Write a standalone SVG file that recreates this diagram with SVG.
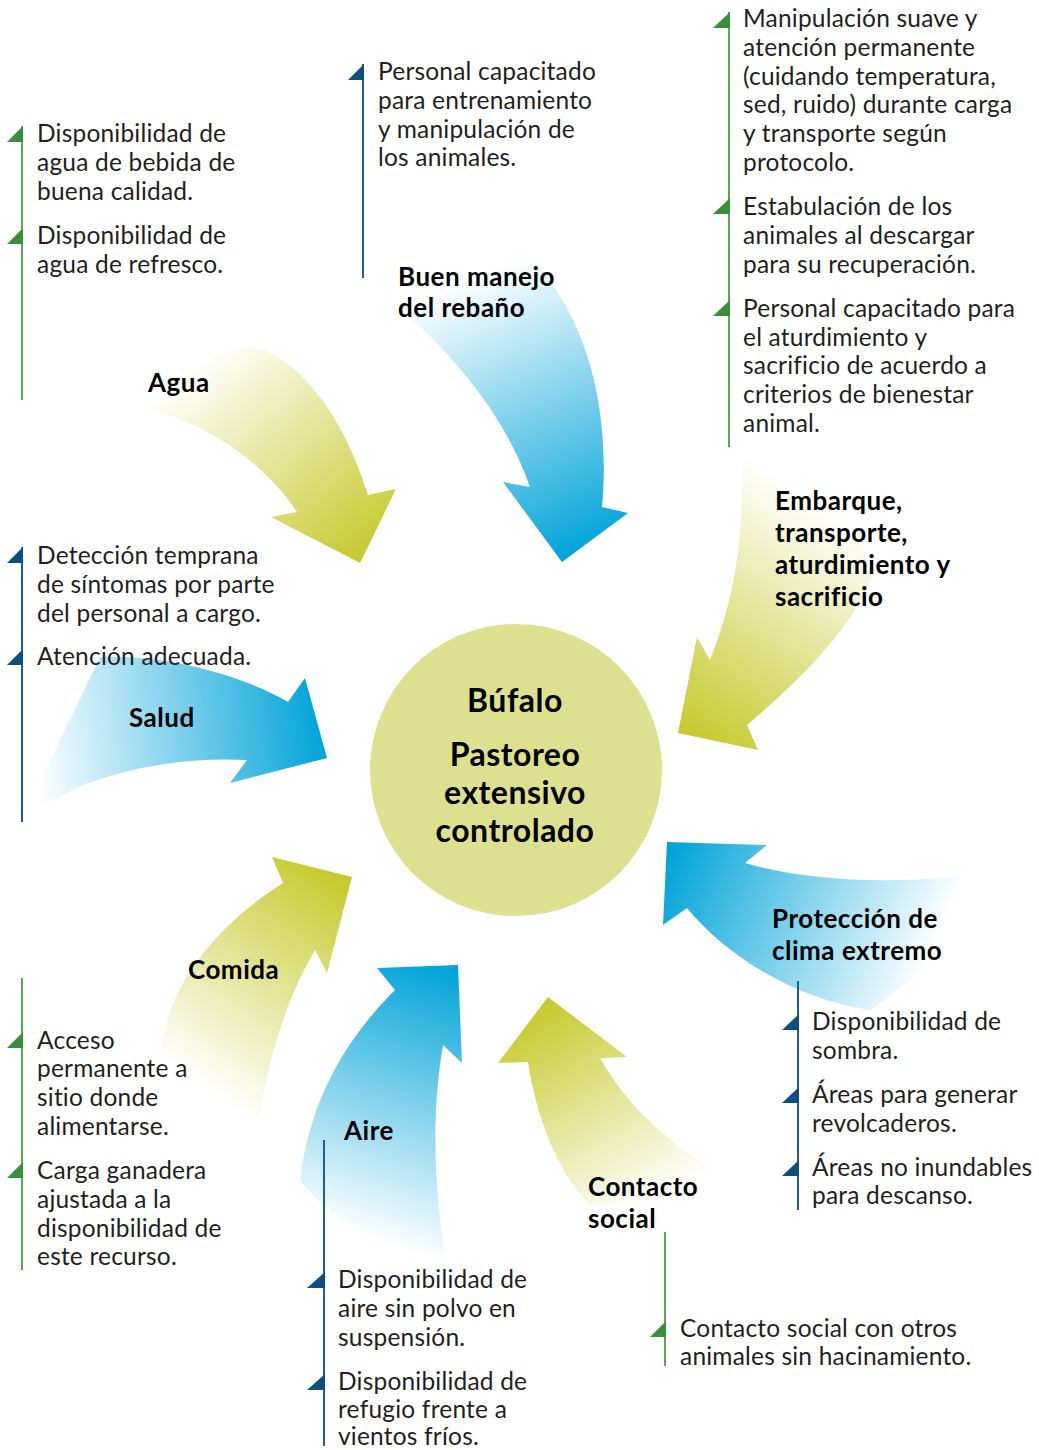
<svg xmlns="http://www.w3.org/2000/svg" width="1039" height="1450" viewBox="0 0 1039 1450">
<style>
.t{font-family:Lato,"Noto Sans","Liberation Sans",sans-serif;font-size:24.5px;letter-spacing:0.2px;fill:#231f20}
.b{font-family:Lato,"Noto Sans","Liberation Sans",sans-serif;font-size:26px;letter-spacing:0.5px;font-weight:bold;fill:#000}
.c{font-family:Lato,"Noto Sans","Liberation Sans",sans-serif;font-size:32px;letter-spacing:0.5px;font-weight:bold;fill:#000;text-anchor:middle}
.gl{stroke:#5aa852;stroke-width:2;fill:none}
.bl{stroke:#1f5f92;stroke-width:2;fill:none}
.gt{fill:#3a8f3c}
.bt{fill:#0d4f7d}
</style>
<defs>
<linearGradient id="gA" gradientUnits="userSpaceOnUse" x1="200" y1="360" x2="362" y2="560"><stop offset="0" stop-color="#fff"/><stop offset="1" stop-color="#c6c92c"/></linearGradient>
<linearGradient id="gB" gradientUnits="userSpaceOnUse" x1="450" y1="285" x2="565" y2="560"><stop offset="0" stop-color="#fff"/><stop offset="1" stop-color="#00a3d9"/></linearGradient>
<linearGradient id="gE" gradientUnits="userSpaceOnUse" x1="830" y1="510" x2="685" y2="735"><stop offset="0" stop-color="#fff"/><stop offset="1" stop-color="#c6c92c"/></linearGradient>
<linearGradient id="gS" gradientUnits="userSpaceOnUse" x1="35" y1="775" x2="325" y2="740"><stop offset="0" stop-color="#fff"/><stop offset="1" stop-color="#00a3d9"/></linearGradient>
<linearGradient id="gP" gradientUnits="userSpaceOnUse" x1="930" y1="960" x2="670" y2="850"><stop offset="0" stop-color="#fff"/><stop offset="1" stop-color="#00a3d9"/></linearGradient>
<linearGradient id="gC" gradientUnits="userSpaceOnUse" x1="205" y1="1090" x2="348" y2="880"><stop offset="0" stop-color="#fff"/><stop offset="1" stop-color="#c6c92c"/></linearGradient>
<linearGradient id="gR" gradientUnits="userSpaceOnUse" x1="370" y1="1240" x2="455" y2="970"><stop offset="0" stop-color="#fff"/><stop offset="1" stop-color="#00a3d9"/></linearGradient>
<linearGradient id="gK" gradientUnits="userSpaceOnUse" x1="660" y1="1200" x2="550" y2="1000"><stop offset="0" stop-color="#fff"/><stop offset="1" stop-color="#c6c92c"/></linearGradient>
</defs>
<rect width="1039" height="1450" fill="#fff"/>

<g id="connectors">
<path id="arrow-agua" fill="url(#gA)" d="M250,347 C300,355 345,420 368,495 L396,489 L360,563 L271,517 L297,512 C270,470 210,420 138,408 C170,375 210,350 250,347 Z"/>
<path id="arrow-manejo" fill="url(#gB)" d="M365,278 C430,330 500,400 530,487 L503,482 L562,562 L628,513 L602,507 C610,420 592,330 540,268 C480,262 410,265 365,278 Z"/>
<path id="arrow-embarque" fill="url(#gE)" d="M742,452 C745,550 730,610 710,660 L697,637 L678,733 L758,750 L747,725 C800,680 850,630 872,578 C860,520 820,470 742,452 Z"/>
<path id="arrow-salud" fill="url(#gS)" d="M23,822 C60,785 150,755 247,760 L230,783 L327,758 L305,678 L288,702 C240,675 170,655 100,657 C70,720 40,780 23,822 Z"/>
<path id="arrow-proteccion" fill="url(#gP)" d="M1010,868 C930,885 820,885 745,863 L767,845 L667,842 L663,925 L687,908 C730,960 800,1000 870,1010 C940,960 990,910 1010,868 Z"/>
<path id="arrow-comida" fill="url(#gC)" d="M160,1060 C165,990 210,930 283,883 L272,857 L352,877 L327,973 L315,950 C285,1000 265,1070 258,1130 C220,1120 180,1090 160,1060 Z"/>
<path id="arrow-aire" fill="url(#gR)" d="M300,1180 C310,1100 345,1040 395,990 L377,968 L458,965 L462,1063 L443,1045 C430,1120 435,1200 447,1265 C390,1250 330,1220 300,1180 Z"/>
<path id="arrow-contacto" fill="url(#gK)" d="M528,1062 C535,1110 555,1170 590,1205 C650,1200 710,1195 752,1190 C690,1160 635,1120 600,1058 L627,1057 L548,997 L498,1063 Z"/>
</g>

<g id="center">
<circle cx="516" cy="770" r="146" fill="#dde08f"/>
<text class="c" x="515" y="712">Búfalo</text>
<text class="c" x="515" y="766">Pastoreo</text>
<text class="c" x="515" y="804">extensivo</text>
<text class="c" x="515" y="842">controlado</text>
</g>

<g id="agua">
<text class="b" x="148" y="392">Agua</text>
<line class="gl" x1="22" y1="126" x2="22" y2="400"/>
<polygon class="gt" points="7,142 23,142 23,126"/>
<polygon class="gt" points="7,244 23,244 23,228"/>
<text class="t" x="37" y="142">Disponibilidad de</text>
<text class="t" x="37" y="171">agua de bebida de</text>
<text class="t" x="37" y="200">buena calidad.</text>
<text class="t" x="37" y="244">Disponibilidad de</text>
<text class="t" x="37" y="273">agua de refresco.</text>
</g>

<g id="manejo">
<text class="b" x="398" y="286">Buen manejo</text>
<text class="b" x="398" y="317">del rebaño</text>
<line class="bl" x1="363" y1="64" x2="363" y2="278"/>
<polygon class="bt" points="348,80 364,80 364,64"/>
<text class="t" x="378" y="80">Personal capacitado</text>
<text class="t" x="378" y="109">para entrenamiento</text>
<text class="t" x="378" y="138">y manipulación de</text>
<text class="t" x="378" y="166">los animales.</text>
</g>

<g id="embarque">
<text class="b" x="775" y="510">Embarque,</text>
<text class="b" x="775" y="542">transporte,</text>
<text class="b" x="775" y="574">aturdimiento y</text>
<text class="b" x="775" y="606">sacrificio</text>
<line class="gl" x1="729" y1="12" x2="729" y2="447"/>
<polygon class="gt" points="713,28 730,28 730,12"/>
<polygon class="gt" points="713,214 730,214 730,198"/>
<polygon class="gt" points="713,316 730,316 730,300"/>
<text class="t" x="743" y="27">Manipulación suave y</text>
<text class="t" x="743" y="56">atención permanente</text>
<text class="t" x="743" y="85">(cuidando temperatura,</text>
<text class="t" x="743" y="113">sed, ruido) durante carga</text>
<text class="t" x="743" y="142">y transporte según</text>
<text class="t" x="743" y="171">protocolo.</text>
<text class="t" x="743" y="215">Estabulación de los</text>
<text class="t" x="743" y="244">animales al descargar</text>
<text class="t" x="743" y="273">para su recuperación.</text>
<text class="t" x="743" y="317">Personal capacitado para</text>
<text class="t" x="743" y="346">el aturdimiento y</text>
<text class="t" x="743" y="374">sacrificio de acuerdo a</text>
<text class="t" x="743" y="403">criterios de bienestar</text>
<text class="t" x="743" y="432">animal.</text>
</g>

<g id="salud">
<text class="b" x="129" y="727">Salud</text>
<line class="bl" x1="22" y1="547" x2="22" y2="822"/>
<polygon class="bt" points="7,563 23,563 23,547"/>
<polygon class="bt" points="7,665 23,665 23,649"/>
<text class="t" x="37" y="564">Detección temprana</text>
<text class="t" x="37" y="593">de síntomas por parte</text>
<text class="t" x="37" y="622">del personal a cargo.</text>
<text class="t" x="37" y="665">Atención adecuada.</text>
</g>

<g id="proteccion">
<text class="b" x="772" y="928">Protección de</text>
<text class="b" x="772" y="960">clima extremo</text>
<line class="bl" x1="798" y1="981" x2="798" y2="1210"/>
<polygon class="bt" points="782,1030 799,1030 799,1014"/>
<polygon class="bt" points="782,1103 799,1103 799,1087"/>
<polygon class="bt" points="782,1176 799,1176 799,1160"/>
<text class="t" x="812" y="1030">Disponibilidad de</text>
<text class="t" x="812" y="1059">sombra.</text>
<text class="t" x="812" y="1103">Áreas para generar</text>
<text class="t" x="812" y="1132">revolcaderos.</text>
<text class="t" x="812" y="1176">Áreas no inundables</text>
<text class="t" x="812" y="1204">para descanso.</text>
</g>

<g id="comida">
<text class="b" x="188" y="979">Comida</text>
<line class="gl" x1="22" y1="978" x2="22" y2="1270"/>
<polygon class="gt" points="7,1048 23,1048 23,1032"/>
<polygon class="gt" points="7,1178 23,1178 23,1162"/>
<text class="t" x="37" y="1049">Acceso</text>
<text class="t" x="37" y="1077">permanente a</text>
<text class="t" x="37" y="1106">sitio donde</text>
<text class="t" x="37" y="1135">alimentarse.</text>
<text class="t" x="37" y="1179">Carga ganadera</text>
<text class="t" x="37" y="1208">ajustada a la</text>
<text class="t" x="37" y="1237">disponibilidad de</text>
<text class="t" x="37" y="1265">este recurso.</text>
</g>

<g id="aire">
<text class="b" x="344" y="1140">Aire</text>
<line class="bl" x1="324" y1="1140" x2="324" y2="1446"/>
<polygon class="bt" points="307,1288 325,1288 325,1272"/>
<polygon class="bt" points="307,1390 325,1390 325,1374"/>
<text class="t" x="338" y="1288">Disponibilidad de</text>
<text class="t" x="338" y="1317">aire sin polvo en</text>
<text class="t" x="338" y="1346">suspensión.</text>
<text class="t" x="338" y="1390">Disponibilidad de</text>
<text class="t" x="338" y="1418">refugio frente a</text>
<text class="t" x="338" y="1445">vientos fríos.</text>
</g>

<g id="contacto">
<text class="b" x="588" y="1196">Contacto</text>
<text class="b" x="588" y="1228">social</text>
<line class="gl" x1="665" y1="1232" x2="665" y2="1366"/>
<polygon class="gt" points="650,1337 666,1337 666,1321"/>
<text class="t" x="680" y="1337">Contacto social con otros</text>
<text class="t" x="680" y="1365">animales sin hacinamiento.</text>
</g>
</svg>
